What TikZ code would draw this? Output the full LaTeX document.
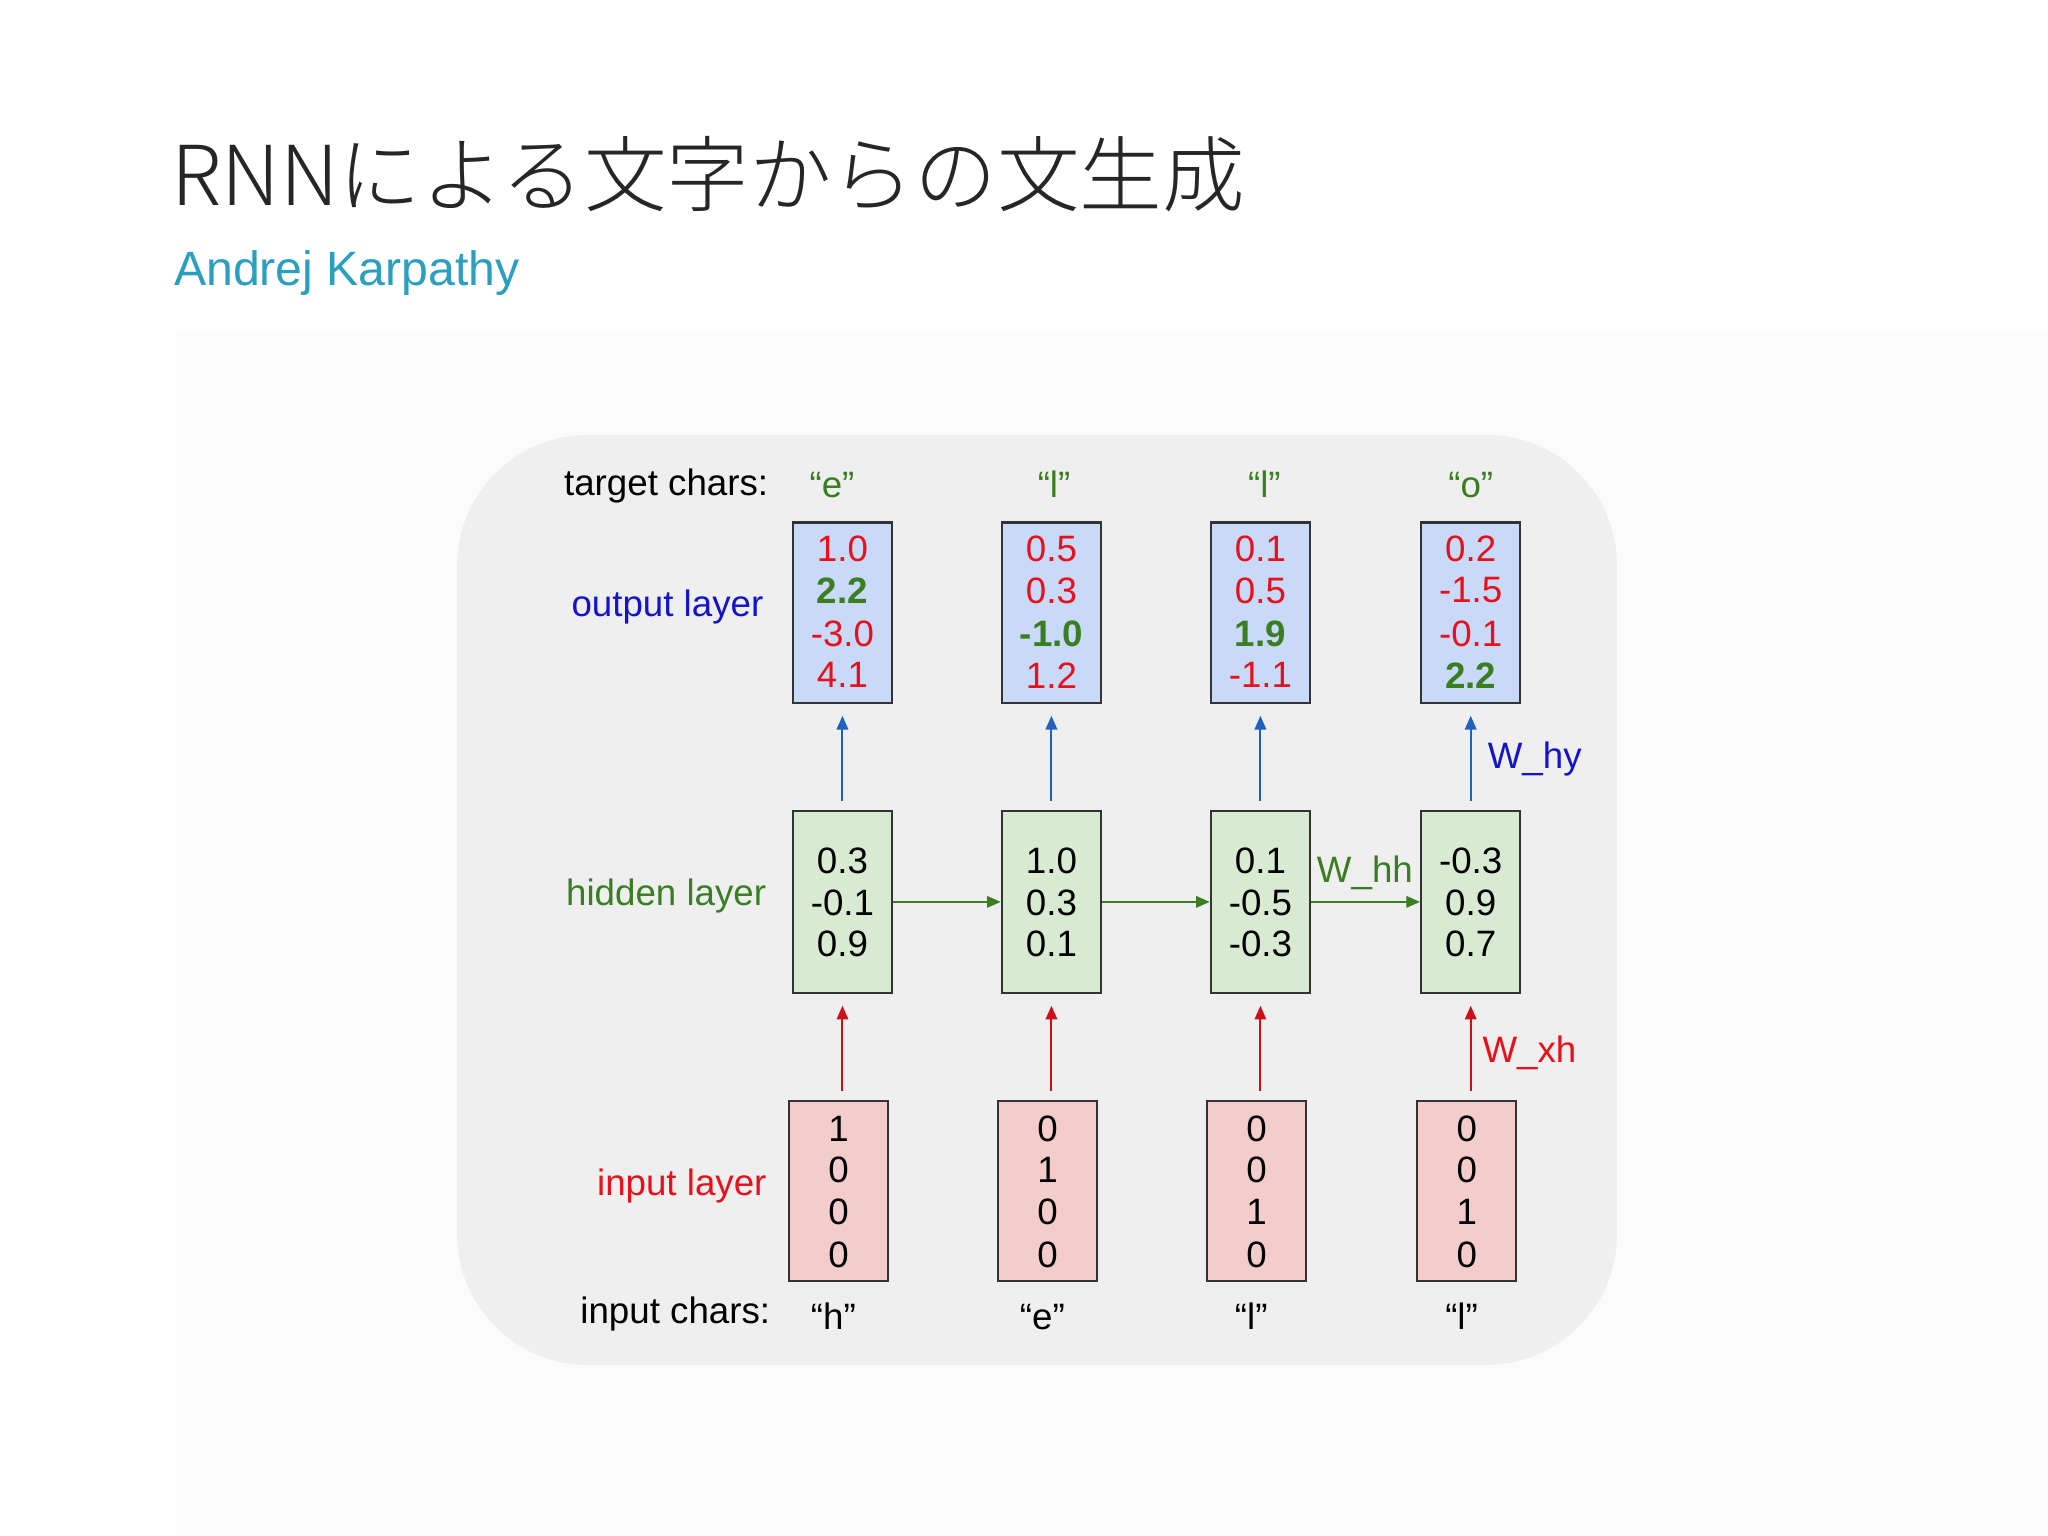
\documentclass[tikz,border=0pt]{standalone}
\usepackage{fontspec}
\setmainfont{Liberation Sans}
\newfontfamily\cjk{Noto Sans CJK JP Light}
\usetikzlibrary{arrows.meta}
\definecolor{cred}{HTML}{E8101A}
\definecolor{cgreen}{HTML}{3A7D22}
\definecolor{cblue}{HTML}{1414C8}
\definecolor{ablue}{HTML}{2060C0}
\definecolor{fblue}{HTML}{C9DAF8}
\definecolor{fgreen}{HTML}{D9EAD3}
\definecolor{fred}{HTML}{F4CCCC}
\definecolor{panel}{HTML}{EFEFEF}
\definecolor{teal}{HTML}{2A9FC0}
\tikzset{
 box/.style={draw=black!80, line width=0.9pt, minimum width=1.52cm, minimum height=2.76cm, inner sep=0pt},
 hbox/.style={box, minimum height=2.78cm},
 t/.style={font=\fontsize{16}{19}\selectfont, inner sep=0pt},
 arr/.style={-{Triangle[length=6pt,width=5pt]}, line width=0.9pt},
}
\begin{document}
\begin{tikzpicture}[x=0.02cm,y=-0.02cm]
\useasboundingbox[fill=white] (0,0) rectangle (1568,1176);
\fill[black!1.5] (135,255) rectangle (1568,1176);
\node[anchor=west, inner sep=0pt, font=\cjk\fontsize{36}{40}\selectfont, text=black!85] (title) at (131,133) {RNNによる文字からの文生成};
\node[anchor=west, inner sep=0pt, font=\fontsize{21}{25}\selectfont, text=teal] (sub) at (133,209) {Andrej Karpathy};
\fill[panel, rounded corners=2cm] (350,333) rectangle (1238,1045);
\node[t] (tc) at (510,372) {target chars:};
\node[t, text=cblue] (ol) at (511,465) {output layer};
\node[t, text=cgreen] (hl) at (510,686) {hidden layer};
\node[t, text=cred] (il) at (522,908) {input layer};
\node[t] (ic) at (517,1006) {input chars:};
\foreach \i/\x/\tx/\tg/\ic/\oa/\ob/\oc/\od/\gi/\ha/\hb/\hc/\ia/\ib/\icc/\id in {
 1/645/637/``e''/``h''/1.0/2.2/-3.0/4.1/2/0.3/-0.1/0.9/1/0/0/0,
 2/805/807/``l''/``e''/0.5/0.3/-1.0/1.2/3/1.0/0.3/0.1/0/1/0/0,
 3/965/968/``l''/``l''/0.1/0.5/1.9/-1.1/3/0.1/-0.5/-0.3/0/0/1/0,
 4/1126/1126/``o''/``l''/0.2/-1.5/-0.1/2.2/4/-0.3/0.9/0.7/0/0/1/0}{
 \node[t, text=cgreen] (tg\i) at (\tx,371) {\tg};
 \node[box, fill=fblue] (o\i) at (\x,469) {};
 \foreach \v/\yy/\k in {\oa/420/1,\ob/452/2,\oc/485/3,\od/517/4}{
   \ifnum\k=\gi
     \node[t, text=cgreen, font=\bfseries\fontsize{16}{19}\selectfont] at (\x,\yy) {\v};
   \else
     \node[t, text=cred] at (\x,\yy) {\v};
   \fi}
 \node[hbox, fill=fgreen] (h\i) at (\x,690.5) {};
 \node[t] at (\x,659) {\ha};
 \node[t] at (\x,691) {\hb};
 \node[t] at (\x,723) {\hc};
 \node[box, fill=fred] (x\i) at (\x-3,912) {};
 \node[t] at (\x-3,864) {\ia};
 \node[t] at (\x-3,896) {\ib};
 \node[t] at (\x-3,928) {\icc};
 \node[t] at (\x-3,961) {\id};
 \node[t] (c\i) at (\x-7,1008) {\ic};
 \draw[arr, ablue] (\x,613) -- (\x,548);
 \draw[arr, cred!90!black] (\x,835) -- (\x,770);
}
\draw[arr, cgreen] (h1) -- (h2);
\draw[arr, cgreen] (h2) -- (h3);
\draw[arr, cgreen] (h3) -- (h4);
\node[t, text=cblue] (why) at (1175,581) {W\_hy};
\node[t, text=cgreen] (whh) at (1045,668) {W\_hh};
\node[t, text=cred] (wxh) at (1171,806) {W\_xh};
\end{tikzpicture}
\end{document}
